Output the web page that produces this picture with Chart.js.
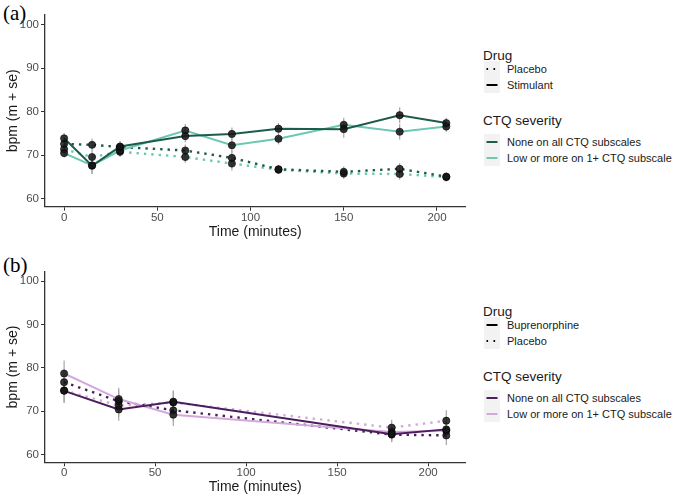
<!DOCTYPE html>
<html lang="en">
<head>
    <meta charset="UTF-8">
    <title>bpm over time</title>
    <script src="https://cdn.jsdelivr.net/npm/chart.js"></script>
    <style>
        body {
            margin: 0;
            width: 684px;
            height: 502px;
            background: #fff;
            font-family: "Liberation Sans", Arial, sans-serif;
            position: relative;
            overflow: hidden;
        }
        canvas { position: absolute; left: 0; }
        .panel {
            position: absolute;
            left: 3px;
            font-family: "Liberation Serif", "Times New Roman", serif;
            font-size: 21px;
            color: #000;
        }
        .ltitle {
            position: absolute;
            font-size: 13.5px;
            color: #1a1a1a;
        }
        .row {
            position: absolute;
            height: 16px;
            line-height: 16px;
            font-size: 11px;
            color: #1a1a1a;
            white-space: nowrap;
        }
        .key {
            display: inline-block;
            width: 16px;
            height: 16px;
            background: #f2f2f2;
            vertical-align: top;
            margin-right: 7px;
        }
    </style>
</head>
<body>

    <div class="panel" style="top:1px">(a)</div>
    <canvas id="chartA" width="470" height="250" style="top:0"></canvas>

    <div class="panel" style="top:253px">(b)</div>
    <canvas id="chartB" width="470" height="252" style="top:250px"></canvas>

    <div id="legendA"></div>
    <div id="legendB"></div>

    <script>
        // ---- panel (a): stimulant study ----
        const timeA = [0, 15, 30, 65, 90, 115, 150, 180, 205];
        const stimNoneA = [73.9, 67.6, 72.0, 74.4, 74.9, 76.1, 76.0, 79.2, 77.4];
        const stimLowA = [70.5, 67.7, 71.1, 75.7, 72.3, 73.8, 77.0, 75.4, 76.6];
        const placNoneA = [72.6, 72.4, 71.9, 71.1, 69.4, 66.8, 66.2, 66.9, 65.1];
        const placLowA = [71.4, 69.6, 70.8, 69.6, 68.1, 66.7, 65.8, 65.7, 65.0];
        const seStimNoneA = [1.2, 1.9, 1.3, 1.4, 1.5, 1.3, 2.0, 1.8, 1.2];
        const seStimLowA = [1.0, 1.9, 1.2, 1.5, 1.6, 1.3, 1.6, 1.8, 1.2];
        const sePlacNoneA = [1.1, 1.4, 1.2, 1.4, 1.6, 1.0, 1.2, 1.3, 1.0];
        const sePlacLowA = [1.0, 1.5, 1.2, 1.3, 1.6, 1.0, 1.2, 1.3, 1.0];

        // ---- panel (b): buprenorphine study ----
        const timeB = [0, 30, 60, 180, 210];
        const bupNoneB = [74.7, 70.4, 72.2, 64.7, 65.8];
        const bupLowB = [78.7, 72.8, 69.2, 65.2, 65.5];
        const placNoneB = [76.7, 72.3, 70.2, 64.6, 64.4];
        const placLowB = [74.8, 71.3, 72.0, 66.2, 67.8];
        const seBupNoneB = [2.8, 2.6, 2.6, 1.8, 2.0];
        const seBupLowB = [3.0, 2.6, 2.6, 1.8, 2.0];
        const sePlacNoneB = [2.9, 2.6, 2.6, 1.8, 2.2];
        const sePlacLowB = [2.8, 2.6, 2.6, 1.8, 2.4];

        const yTicks = [60, 70, 80, 90, 100];
        const xTicks = [0, 50, 100, 150, 200];

        const greenDark = '#1d5c4c';
        const greenLight = '#6cc8b2';
        const purpleDark = '#4a1d5c';
        const purpleLight = '#d3a9dc';

        // grey vertical error bars, drawn before the lines
        const errorBars = {
            id: 'errorBars',
            beforeDatasetsDraw(chart, args, opts) {
                const ctx = chart.ctx;
                const xs = chart.scales.x, ys = chart.scales.y;
                ctx.save();
                ctx.strokeStyle = '#a6a6a6';
                ctx.lineWidth = 1.2;
                opts.groups.forEach(g => {
                    g.times.forEach((t, i) => {
                        const px = xs.getPixelForValue(t);
                        ctx.beginPath();
                        ctx.moveTo(px, ys.getPixelForValue(g.values[i] - g.se[i]));
                        ctx.lineTo(px, ys.getPixelForValue(g.values[i] + g.se[i]));
                        ctx.stroke();
                    });
                });
                ctx.restore();
            }
        };

        function pts(times, values) {
            return times.map((t, i) => ({ x: t, y: values[i] }));
        }

        function lineSet(times, values, color, dotted) {
            return {
                data: pts(times, values),
                borderColor: color,
                borderWidth: dotted ? 2.4 : 2,
                borderDash: dotted ? [2.4, 5] : [],
                pointRadius: 0,
                showLine: true,
                tension: 0,
                order: 2
            };
        }

        function pointSet(times, values) {
            return {
                data: pts(times, values),
                showLine: false,
                pointRadius: 3.6,
                pointBackgroundColor: 'rgba(20,20,20,0.85)',
                pointBorderColor: '#000',
                pointBorderWidth: 0.6,
                order: 0
            };
        }

        function makeChart(id, times, groups, xMin, xMax, topPad, axisH, titlePad) {
            const datasets = [];
            groups.forEach(g => datasets.push(lineSet(times, g.values, g.color, g.dotted)));
            groups.forEach(g => datasets.push(pointSet(times, g.values)));

            return new Chart(document.getElementById(id).getContext('2d'), {
                type: 'scatter',
                data: { datasets: datasets },
                plugins: [errorBars],
                options: {
                    responsive: false,
                    animation: false,
                    layout: { padding: { top: topPad, right: 0, left: 0, bottom: 0 } },
                    plugins: {
                        legend: { display: false },
                        tooltip: { enabled: false },
                        errorBars: { groups: groups.map(g => ({ times: times, values: g.values, se: g.se })) }
                    },
                    scales: {
                        x: {
                            type: 'linear',
                            min: xMin,
                            max: xMax,
                            afterBuildTicks: s => { s.ticks = xTicks.map(v => ({ value: v })); },
                            afterFit: s => { s.height = axisH; },
                            grid: { display: true, drawOnChartArea: false, drawTicks: true, tickLength: 4, color: '#333', tickColor: '#333' },
                            border: { display: true, color: '#333', width: 1.3 },
                            ticks: { color: '#4d4d4d', padding: 0, font: { size: 11.5, family: '"Liberation Sans", Arial' } },
                            title: { display: true, text: 'Time (minutes)', color: '#1a1a1a', padding: { top: 0, bottom: titlePad }, font: { size: 14, family: '"Liberation Sans", Arial' } }
                        },
                        y: {
                            type: 'linear',
                            min: 58.2,
                            max: 102.2,
                            afterBuildTicks: s => { s.ticks = yTicks.map(v => ({ value: v })); },
                            afterFit: s => { s.width = 45; },
                            grid: { display: true, drawOnChartArea: false, drawTicks: true, tickLength: 4, color: '#333', tickColor: '#333' },
                            border: { display: true, color: '#333', width: 1.3 },
                            ticks: { color: '#4d4d4d', padding: 2, font: { size: 11.5, family: '"Liberation Sans", Arial' } },
                            title: { display: true, text: 'bpm (m + se)', color: '#1a1a1a', padding: { top: 5, bottom: 0 }, font: { size: 14, family: '"Liberation Sans", Arial' } }
                        }
                    }
                }
            });
        }

        makeChart('chartA', timeA, [
            { values: stimNoneA, se: seStimNoneA, color: greenDark, dotted: false },
            { values: stimLowA, se: seStimLowA, color: greenLight, dotted: false },
            { values: placNoneA, se: sePlacNoneA, color: greenDark, dotted: true },
            { values: placLowA, se: sePlacLowA, color: greenLight, dotted: true }
        ], -10.25, 215.25, 15, 43.3, 9);

        makeChart('chartB', timeB, [
            { values: bupNoneB, se: seBupNoneB, color: purpleDark, dotted: false },
            { values: bupLowB, se: seBupLowB, color: purpleLight, dotted: false },
            { values: placNoneB, se: sePlacNoneB, color: purpleDark, dotted: true },
            { values: placLowB, se: sePlacLowB, color: purpleLight, dotted: true }
        ], -10.5, 220.5, 21.7, 39.7, 6);

        // ---- ggplot-style legends ----
        function keySvg(color, dotted) {
            const dash = dotted ? 'stroke-dasharray="1.6 5.4"' : '';
            return `<span class="key"><svg width="16" height="16"><line x1="2.5" y1="8" x2="13.5" y2="8" stroke="${color}" stroke-width="2" ${dash}/></svg></span>`;
        }

        function buildLegend(elId, top, drugItems, ctqColors) {
            const ctqLabels = ['None on all CTQ subscales', 'Low or more on 1+ CTQ subscale'];
            let html = `<div class="ltitle" style="left:483px; top:${top}px">Drug</div>`;
            drugItems.forEach((d, i) => {
                html += `<div class="row" style="left:484px; top:${top + 13 + i * 15.6}px">${keySvg('#000', d.dotted)}${d.label}</div>`;
            });
            html += `<div class="ltitle" style="left:483px; top:${top + 65}px">CTQ severity</div>`;
            ctqLabels.forEach((l, i) => {
                html += `<div class="row" style="left:484px; top:${top + 86 + i * 16.3}px">${keySvg(ctqColors[i], false)}${l}</div>`;
            });
            document.getElementById(elId).innerHTML = html;
        }

        buildLegend('legendA', 48, [
            { label: 'Placebo', dotted: true },
            { label: 'Stimulant', dotted: false }
        ], [greenDark, greenLight]);

        buildLegend('legendB', 304, [
            { label: 'Buprenorphine', dotted: false },
            { label: 'Placebo', dotted: true }
        ], [purpleDark, purpleLight]);
    </script>

</body>
</html>
